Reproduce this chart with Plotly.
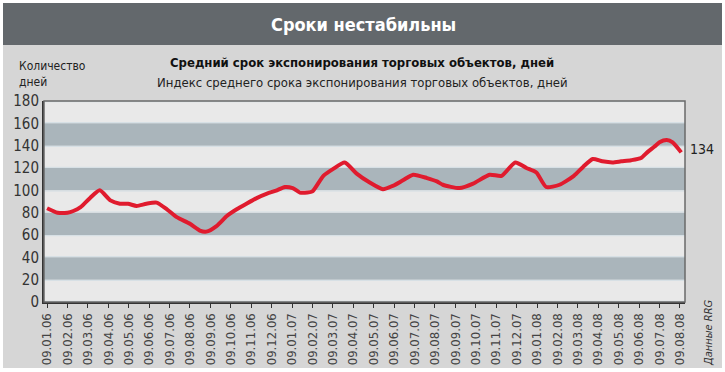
import calendar
import plotly.graph_objects as go

# ---- data ----
dates = ["09.01.06", "25.01.06", "09.02.06", "17.02.06", "27.02.06", "12.03.06", "27.03.06",
         "12.04.06", "26.04.06", "08.05.06", "21.05.06", "05.06.06", "20.06.06", "05.07.06",
         "20.07.06", "09.08.06", "24.08.06", "03.09.06", "18.09.06", "03.10.06", "18.10.06",
         "02.11.06", "17.11.06", "02.12.06", "17.12.06", "29.12.06", "10.01.07", "21.01.07",
         "02.02.07", "09.02.07", "24.02.07", "09.03.07", "27.03.07", "14.04.07", "03.05.07",
         "23.05.07", "07.06.07", "22.06.07", "07.07.07", "28.07.07", "12.08.07", "21.08.07",
         "15.09.07", "05.10.07", "30.10.07", "17.11.07", "07.12.07", "24.12.07", "08.01.08",
         "23.01.08", "12.02.08", "03.03.08", "17.03.08", "01.04.08", "15.04.08", "30.04.08",
         "13.05.08", "28.05.08", "12.06.08", "21.06.08", "01.07.08", "09.07.08", "20.07.08",
         "29.07.08", "11.08.08"]
days = [84, 80, 80, 81.5, 85, 93, 100,
        91, 88, 88, 86, 88, 89, 83,
        76, 70, 64, 63, 68, 77, 83,
        88, 93, 97, 100, 103, 102, 98,
        98, 99, 113, 119, 125, 115, 107,
        101, 104, 109, 114, 111, 108, 105,
        102, 106, 114, 113, 125, 120, 116,
        103, 105, 113, 121, 128, 126, 125,
        126, 127, 129, 134, 139, 143, 145,
        143, 134]
tick_labels = ["09.%02d.%02d" % (m, y) for y in (6, 7, 8) for m in range(1, 13)][:32]
y_ticks = [0, 20, 40, 60, 80, 100, 120, 140, 160, 180]

title = "Сроки нестабильны"
subtitle1 = "Средний срок экспонирования торговых объектов, дней"
subtitle2 = "Индекс среднего срока экспонирования торговых объектов, дней"
y_title = "Количество<br>дней"
source = "Данные RRG"
last_label = "134"


def month_index(s):
    d, m, y = (int(p) for p in s.split("."))
    y += 2000
    return (y - 2006) * 12 + (m - 1) + (d - 9) / calendar.monthrange(y, m)[1]


xs = [month_index(s) for s in dates]

# ---- styles ----
FONT = "Liberation Sans Narrow, DejaVu Sans Condensed, Roboto, sans-serif"
BAND = "#aab5bb"
LIGHT = "#e9e9e9"
OUTER = "#d6d6d6"
RED = "#e01b2e"

W, H = 725, 372
L, R, T, B = 44, 685, 101, 302


def px(x):
    return (x - L) / (R - L)


def py(y):
    return (B - y) / (B - T)


fig = go.Figure()
fig.add_trace(go.Scatter(x=xs, y=days, mode="lines",
                         line=dict(color=RED, width=4, shape="spline", smoothing=0.6),
                         hoverinfo="skip", showlegend=False))

shapes = []
# outer background and title bar
shapes.append(dict(type="rect", xref="paper", yref="paper", x0=px(3), x1=px(722), y0=py(368), y1=py(45),
                   fillcolor=OUTER, line=dict(width=0), layer="below"))
shapes.append(dict(type="rect", xref="paper", yref="paper", x0=px(3), x1=px(722), y0=py(45), y1=py(3),
                   fillcolor="#63686c", line=dict(width=0), layer="below"))
# plot background
shapes.append(dict(type="rect", xref="paper", yref="paper", x0=0, x1=1, y0=0, y1=1,
                   fillcolor=LIGHT, line=dict(width=0), layer="below"))
# bands
for lo in (20, 60, 100, 140):
    shapes.append(dict(type="rect", xref="paper", yref="y", x0=0, x1=1, y0=lo, y1=lo + 20,
                       fillcolor=BAND, line=dict(width=0), layer="below"))
for lo in (0, 40, 80, 120, 160):
    for yy in (lo + 0.6, lo + 19.4):
        if 0 < yy < 180:
            shapes.append(dict(type="line", xref="paper", yref="y", x0=0, x1=1, y0=yy, y1=yy,
                               line=dict(color="#d3dee4", width=1), layer="below"))
# frame
shapes.append(dict(type="rect", xref="paper", yref="paper", x0=0, x1=1, y0=0, y1=1,
                   line=dict(color="#6a6a6a", width=1.5), fillcolor="rgba(0,0,0,0)"))


def ann(text, x, y, size, color="#222", bold=False, xanchor="center", **kw):
    font = dict(family=FONT, size=size, color=color)
    if bold:
        font["weight"] = "bold"
    d = dict(text=text, x=px(x), y=py(y), xref="paper", yref="paper", showarrow=False,
             xanchor=xanchor, yanchor="middle", font=font)
    d.update(kw)
    return d


annotations = [
    ann(title, 363, 24, 18, color="white", bold=True),
    ann(subtitle1, 362, 63, 13, color="#111", bold=True),
    ann(subtitle2, 362, 82, 13),
    ann(y_title, 17, 74, 12, xanchor="left", align="left"),
    dict(text=last_label, x=px(688), y=days[-1] + 3, xref="paper", yref="y", showarrow=False,
         xanchor="left", yanchor="middle", font=dict(family=FONT, size=14, color="#222")),
    ann("<i>" + source + "</i>", 708, 333, 11, color="#333", textangle=-90),
]

fig.update_layout(
    width=W, height=H, autosize=False,
    margin=dict(l=L, r=W - R, t=T, b=H - B, pad=0, autoexpand=False),
    paper_bgcolor="white", plot_bgcolor=LIGHT,
    shapes=shapes, annotations=annotations, showlegend=False,
    xaxis=dict(range=[-0.15, 31.25], tickmode="array", tickvals=list(range(32)),
               ticktext=tick_labels, tickangle=-90, ticks="outside", ticklen=4,
               tickcolor="#333", showgrid=False, zeroline=False, showline=True,
               linecolor="#333", linewidth=2, automargin=False,
               tickfont=dict(family=FONT, size=13, color="#444")),
    yaxis=dict(range=[0, 180], tickmode="array", tickvals=y_ticks, ticks="",
               showgrid=False, zeroline=False, showline=True, linecolor="#333", linewidth=2,
               automargin=False, tickfont=dict(family=FONT, size=15, color="#333")),
)

fig.write_html("out.html", config={"displayModeBar": False},
               post_script="document.body.style.margin='0';document.body.style.padding='0';"
                           "document.body.style.overflow='hidden';")
